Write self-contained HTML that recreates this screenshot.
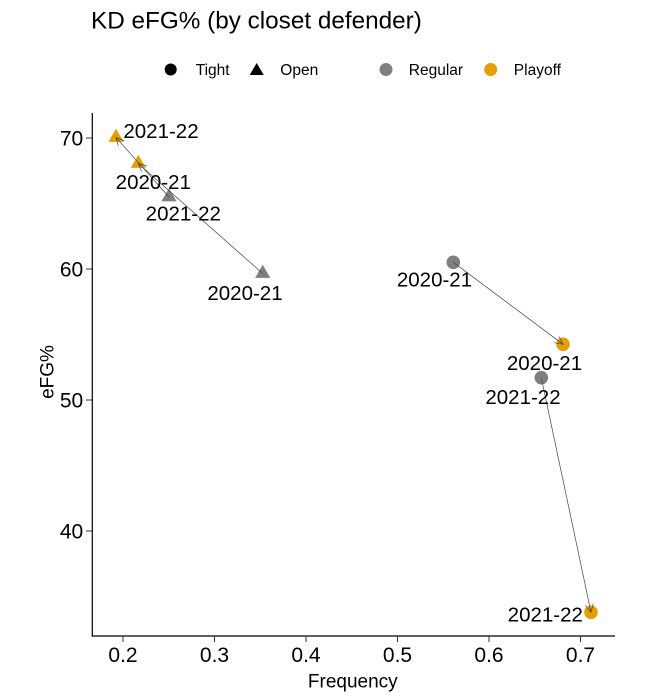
<!DOCTYPE html>
<html>
<head>
<meta charset="utf-8">
<style>
  html, body { margin: 0; padding: 0; background: #ffffff; }
  svg { display: block; font-family: "Liberation Sans", Arial, sans-serif; }
</style>
</head>
<body>
<svg width="650" height="700" viewBox="0 0 650 700" xmlns="http://www.w3.org/2000/svg">
  <defs>
    <marker id="ah" markerWidth="10" markerHeight="10" refX="8" refY="4" orient="auto" markerUnits="userSpaceOnUse">
      <path d="M0,0 L8,4 L0,8" fill="none" stroke="#444444" stroke-width="0.7"/>
    </marker>
  </defs>
  <rect x="0" y="0" width="650" height="700" fill="#ffffff"/>

  <!-- Title -->
  <text x="91" y="28.3" font-size="24.3" fill="#000">KD eFG% (by closet defender)</text>

  <!-- Legend -->
  <circle cx="170.7" cy="69.5" r="6" fill="#000"/>
  <text x="195.7" y="75" font-size="15.5" fill="#000">Tight</text>
  <polygon points="256.7,63 263.7,75 249.7,75" fill="#000"/>
  <text x="280.3" y="75" font-size="15.5" fill="#000">Open</text>
  <circle cx="386" cy="69.5" r="6.5" fill="#7F7F7F"/>
  <text x="408.8" y="75" font-size="15.5" fill="#000">Regular</text>
  <circle cx="490.7" cy="69.5" r="6.5" fill="#E69F00"/>
  <text x="513.8" y="75" font-size="15.5" fill="#000">Playoff</text>

  <!-- Axes -->
  <line x1="92.3" y1="113" x2="92.3" y2="636.5" stroke="#000" stroke-width="1.2"/>
  <line x1="91.7" y1="636" x2="615" y2="636" stroke="#000" stroke-width="1.2"/>

  <!-- Y ticks -->
  <g stroke="#333" stroke-width="1">
    <line x1="86" y1="138" x2="92" y2="138"/>
    <line x1="86" y1="269" x2="92" y2="269"/>
    <line x1="86" y1="400" x2="92" y2="400"/>
    <line x1="86" y1="531" x2="92" y2="531"/>
  </g>
  <g font-size="21" fill="#000" text-anchor="end">
    <text x="83.2" y="145.5">70</text>
    <text x="83.2" y="276.5">60</text>
    <text x="83.2" y="407.5">50</text>
    <text x="83.2" y="538.5">40</text>
  </g>

  <!-- X ticks -->
  <g stroke="#333" stroke-width="1">
    <line x1="123" y1="636" x2="123" y2="642"/>
    <line x1="214.5" y1="636" x2="214.5" y2="642"/>
    <line x1="306" y1="636" x2="306" y2="642"/>
    <line x1="397.5" y1="636" x2="397.5" y2="642"/>
    <line x1="489" y1="636" x2="489" y2="642"/>
    <line x1="580.5" y1="636" x2="580.5" y2="642"/>
  </g>
  <g font-size="21" fill="#000" text-anchor="middle">
    <text x="123" y="662">0.2</text>
    <text x="214.5" y="662">0.3</text>
    <text x="306" y="662">0.4</text>
    <text x="397.5" y="662">0.5</text>
    <text x="489" y="662">0.6</text>
    <text x="580.5" y="662">0.7</text>
  </g>

  <!-- Axis titles -->
  <text x="352.8" y="687.7" font-size="19" fill="#000" text-anchor="middle">Frequency</text>
  <text transform="translate(53.3,372) rotate(-90)" x="0" y="0" font-size="19" fill="#000" text-anchor="middle">eFG%</text>

  <!-- Points -->
  <polygon points="262.7,264.7 270.3,277.9 255.1,277.9" fill="#7F7F7F"/>
  <polygon points="169,188.2 176.6,201.4 161.4,201.4" fill="#7F7F7F"/>
  <polygon points="138.3,154.7 145.9,167.9 130.7,167.9" fill="#E69F00"/>
  <polygon points="116,128.7 123.6,141.9 108.4,141.9" fill="#E69F00"/>
  <circle cx="453.3" cy="262.3" r="6.8" fill="#7F7F7F"/>
  <circle cx="541.3" cy="377.7" r="6.8" fill="#7F7F7F"/>
  <circle cx="563" cy="344.3" r="6.8" fill="#E69F00"/>
  <circle cx="591" cy="612.3" r="6.8" fill="#E69F00"/>

  <!-- Arrows -->
  <g stroke="#444444" stroke-width="0.7" fill="none">
    <line x1="262.7" y1="273.5" x2="138.3" y2="163.5" marker-end="url(#ah)"/>
    <line x1="169" y1="197" x2="116" y2="137.5" marker-end="url(#ah)"/>
    <line x1="453.3" y1="262.3" x2="563" y2="344.3" marker-end="url(#ah)"/>
    <line x1="541.3" y1="377.7" x2="591" y2="612.3" marker-end="url(#ah)"/>
  </g>

  <!-- Data labels -->
  <g font-size="20.5" fill="#000" text-anchor="middle">
    <text x="161" y="138">2021-22</text>
    <text x="153.3" y="189">2020-21</text>
    <text x="183.3" y="220.7">2021-22</text>
    <text x="245" y="300">2020-21</text>
    <text x="434.5" y="286.7">2020-21</text>
    <text x="544.5" y="370">2020-21</text>
    <text x="523" y="404">2021-22</text>
    <text x="545.3" y="621.7">2021-22</text>
  </g>
</svg>
</body>
</html>
